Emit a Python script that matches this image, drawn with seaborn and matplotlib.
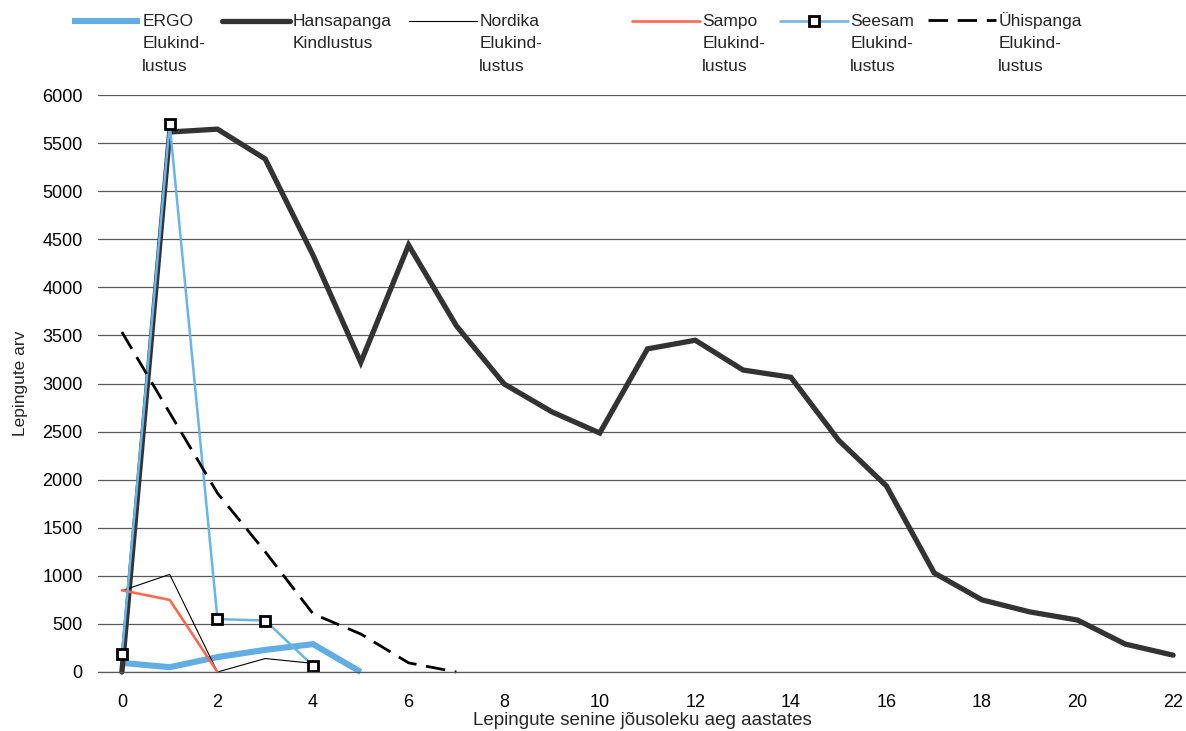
import numpy as np
import pandas as pd
import matplotlib
matplotlib.use("Agg")
import matplotlib.pyplot as plt
import seaborn as sns
from matplotlib.legend_handler import HandlerLine2D

# ---- data ----
years_hansa = list(range(0, 23))
hansapanga = [0, 5615, 5645, 5335, 4335, 3220, 4440, 3600, 2995, 2705, 2485,
              3360, 3450, 3140, 3065, 2410, 1935, 1030, 750, 625, 540, 290, 175]
years_ergo = [0, 1, 2, 3, 4, 5]
ergo = [95, 50, 155, 230, 290, 0]
years_nordika = [0, 1, 2, 3, 4]
nordika = [845, 1015, 0, 140, 90]
years_sampo = [0, 1, 2]
sampo = [850, 750, 0]
years_seesam = [0, 1, 2, 3, 4]
seesam = [185, 5700, 550, 535, 65]
years_yhis = [0, 1, 2, 3, 4, 5, 6, 7]
yhispanga = [3535, 2695, 1860, 1250, 605, 395, 95, 0]

labels = ["ERGO\nElukind-\nlustus", "Hansapanga\nKindlustus", "Nordika\nElukind-\nlustus",
          "Sampo\nElukind-\nlustus", "Seesam\nElukind-\nlustus", "Ühispanga\nElukind-\nlustus"]
xticks = list(range(0, 23, 2))
yticks = list(range(0, 6001, 500))
xlabel = "Lepingute senine jõusoleku aeg aastates"
ylabel = "Lepingute arv"

sns.set_theme(style="white")
plt.rcParams['font.family'] = ['Liberation Sans', 'DejaVu Sans']
FS = 13
FS_LEG = 12.5
FS_LAB = 13.5

fig = plt.figure(figsize=(11.86, 7.31), dpi=100)
ax = fig.add_axes([98/1186, 59/731, 1 - 98/1186, 577/731])

ax.set_xlim(-0.5, 22.27)
ax.set_ylim(0, 6000)
ax.set_yticks(yticks)
ax.set_xticks(xticks)
ax.grid(axis='y', color='#5a5a5a', linewidth=0.9)
ax.set_axisbelow(True)
for s in ['top', 'right', 'left']:
    ax.spines[s].set_visible(False)
ax.spines['bottom'].set_color('#5a5a5a')
ax.spines['bottom'].set_linewidth(0.9)
ax.tick_params(axis='both', length=0, labelsize=FS, colors='black')
ax.tick_params(axis='y', pad=11)
ax.tick_params(axis='x', pad=15.5)

def draw(x, y, **kw):
    df = pd.DataFrame({"x": x, "y": y})
    sns.lineplot(data=df, x="x", y="y", ax=ax, clip_on=False, **kw)

draw(years_ergo, ergo, color='#62AEE4', linewidth=4.4, solid_capstyle='butt')
draw(years_hansa, hansapanga, color='#333333', linewidth=3.8, solid_capstyle='round', solid_joinstyle='miter')
draw(years_nordika, nordika, color='#000000', linewidth=0.8)
draw(years_sampo, sampo, color='#FF6A50', linewidth=1.9)
draw(years_seesam, seesam, color='#6BB4E8', linewidth=1.8, marker='s', markersize=7.5,
     markerfacecolor='white', markeredgecolor='black', markeredgewidth=2.0)
draw(years_yhis, yhispanga, color='#000000', linewidth=2.0, linestyle=(0, (7, 3.5)))

ax.set_xlabel(xlabel, fontsize=FS_LAB, labelpad=1)
ax.set_ylabel(ylabel, fontsize=FS_LEG, labelpad=10)

# ---- legend: one entry per column, handle aligned to the first text line ----
class TopHandler(HandlerLine2D):
    def __init__(self, shift, **kw):
        super().__init__(**kw)
        self.shift = shift

    def create_artists(self, legend, orig_handle, xdescent, ydescent, width, height, fontsize, trans):
        arts = super().create_artists(legend, orig_handle, xdescent, ydescent, width, height, fontsize, trans)
        for a in arts:
            a.set_ydata(np.asarray(a.get_ydata(), dtype=float) + self.shift)
        return arts

handles = ax.get_lines()
handle_x = [72, 222, 409, 632, 780, 928]
handle_top = [14, 14, 14, 14, 14, 12]
LS = 1.61
line_pt = LS * FS_LEG * 0.823
for h, lab, hx, ht in zip(handles, labels, handle_x, handle_top):
    n = lab.count("\n") + 1
    shift = (n - 1) / 2 * line_pt
    leg = fig.legend([h], [lab], loc='upper left', bbox_to_anchor=(hx / 1186, 1 - ht / 731),
                     frameon=False, fontsize=FS_LEG, handlelength=3.9, handletextpad=0.15,
                     borderpad=0, borderaxespad=0,
                     handler_map={h: TopHandler(shift, numpoints=1)})
    for t in leg.get_texts():
        t.set_linespacing(LS)

fig.savefig("out.png", dpi=100)
